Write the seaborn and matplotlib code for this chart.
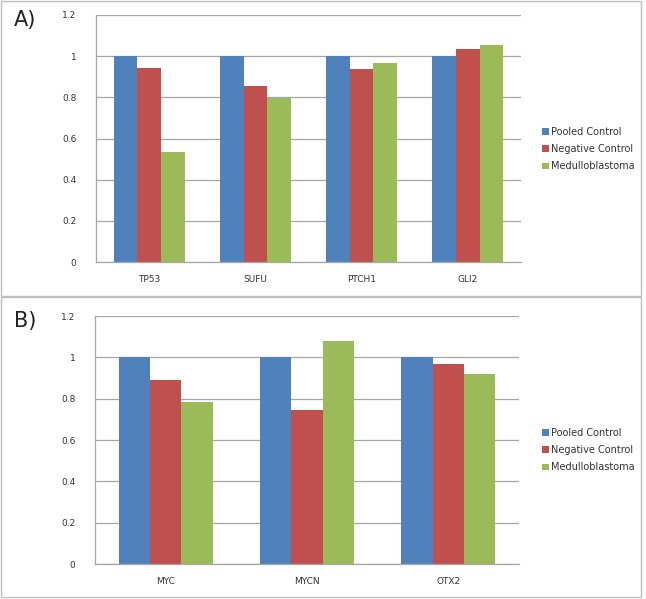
import pandas as pd
import matplotlib.pyplot as plt
import seaborn as sns
from matplotlib.patches import Rectangle, Patch

series = ["Pooled Control", "Negative Control", "Medulloblastoma"]
colors = ["#4F81BD", "#C0504D", "#9BBB59"]

genes_a = ["TP53", "SUFU", "PTCH1", "GLI2"]
pooled_a = [1.0, 1.0, 1.0, 1.0]
negative_a = [0.941, 0.855, 0.937, 1.037]
medullo_a = [0.535, 0.795, 0.969, 1.055]

genes_b = ["MYC", "MYCN", "OTX2"]
pooled_b = [1.0, 1.0, 1.0]
negative_b = [0.892, 0.746, 0.966]
medullo_b = [0.785, 1.077, 0.918]

yticks = [0, 0.2, 0.4, 0.6, 0.8, 1.0, 1.2]
ytick_labels = ["0", "0.2", "0.4", "0.6", "0.8", "1", "1.2"]


def long_frame(genes, pooled, negative, medullo):
    rows = []
    for name, vals in zip(series, [pooled, negative, medullo]):
        for g, v in zip(genes, vals):
            rows.append({"gene": g, "series": name, "value": v})
    return pd.DataFrame(rows)


sns.set_theme(style="white")
plt.rcParams["font.family"] = ["DejaVu Sans"]

W, H = 646, 599
fig = plt.figure(figsize=(W / 100, H / 100), dpi=100)


def px_axes(left, top, right, bottom):
    return fig.add_axes([left / W, 1 - bottom / H, (right - left) / W, (bottom - top) / H])


def draw_panel(ax, df, genes, label, label_y, legend_y):
    sns.barplot(data=df, x="gene", y="value", hue="series", order=genes,
                hue_order=series, palette=colors, width=0.667, saturation=1,
                ax=ax, legend=False)
    ax.set_ylim(0, 1.2)
    ax.set_yticks(yticks)
    ax.set_yticklabels(ytick_labels)
    ax.set_xlabel("")
    ax.set_ylabel("")
    ax.yaxis.grid(True, color="#A6A6A6", linewidth=0.9)
    ax.set_axisbelow(True)
    for s in ["top", "right"]:
        ax.spines[s].set_visible(False)
    for s in ["left", "bottom"]:
        ax.spines[s].set_color("#A6A6A6")
        ax.spines[s].set_linewidth(0.9)
    ax.tick_params(axis="both", length=0, labelsize=6.5, colors="#333333")
    ax.tick_params(axis="y", pad=14)
    ax.tick_params(axis="x", pad=9)
    for b in ax.patches:
        b.set_edgecolor("none")
    fig.text(14 / W, 1 - label_y / H, label, fontsize=15, color="#222222",
             va="center", ha="left")
    handles = [Patch(facecolor=c, edgecolor="none") for c in colors]
    fig.legend(handles, series, loc="upper left",
               bbox_to_anchor=(533 / W, 1 - legend_y / H), frameon=False,
               fontsize=7, handlelength=0.7, handleheight=0.7,
               handletextpad=0.3, labelspacing=0.75, labelcolor="#333333")


# panel borders
for top, bottom in [(1, 296), (297, 597)]:
    fig.patches.append(Rectangle((1 / W, 1 - bottom / H), 640 / W, (bottom - top) / H,
                                 transform=fig.transFigure, fill=False,
                                 edgecolor="#BFBFBF", linewidth=1.0))

ax_a = px_axes(96, 15, 521, 262)
draw_panel(ax_a, long_frame(genes_a, pooled_a, negative_a, medullo_a),
           genes_a, "A)", 20, 118)

ax_b = px_axes(95, 316, 519, 564)
draw_panel(ax_b, long_frame(genes_b, pooled_b, negative_b, medullo_b),
           genes_b, "B)", 321, 419)

fig.savefig("out.png", dpi=100)
